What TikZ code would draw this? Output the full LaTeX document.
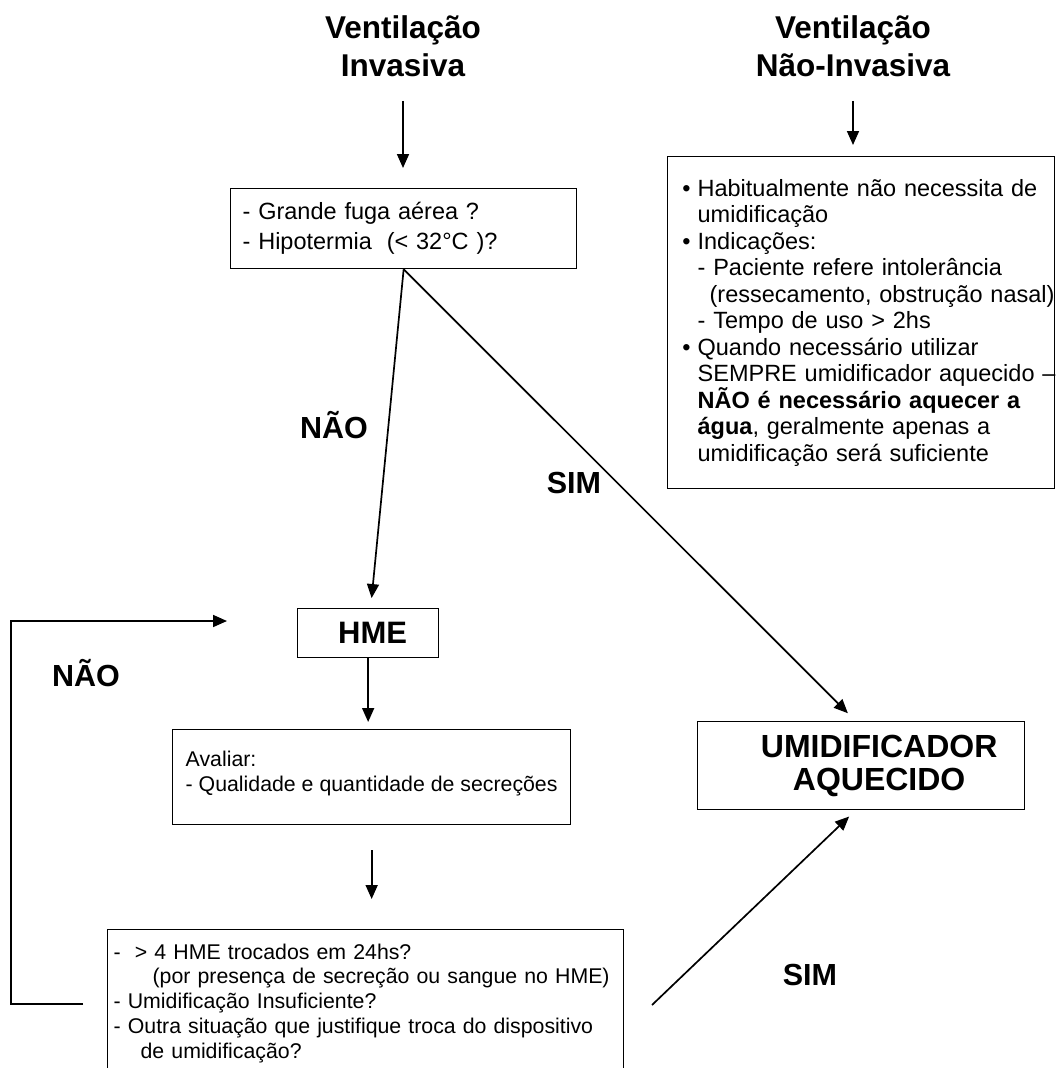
\documentclass[tikz,border=0pt]{standalone}
\usepackage{fontspec}
\setmainfont{Liberation Sans}
\usetikzlibrary{arrows.meta}

\newcommand{\marca}[1]{\mbox{\hspace*{30pt}\llap{•\hspace{7pt}}#1}}
\newcommand{\recuo}[2][30pt]{\mbox{\hspace*{#1}#2}}

\begin{document}
\begin{tikzpicture}[x=1pt, y=-1pt, >={Triangle[length=14pt,width=12pt]},
  caixa/.style={draw, line width=1.3pt, anchor=north west},
  titulo/.style={align=center, inner sep=0pt, font=\fontsize{31.5}{38}\selectfont\bfseries},
  rotulo/.style={inner sep=0pt, font=\fontsize{30.5}{36}\selectfont\bfseries},
  seta/.style={->, line width=1.7pt}]
  \useasboundingbox (0,0) rectangle (1055,1068);
  \clip (0,0) rectangle (1055,1068);

  \node[titulo] (tinv) at (403,46) {Ventilação\\Invasiva};
  \node[titulo] (tnao) at (853,46) {Ventilação\\Não-Invasiva};

  \node[caixa, minimum width=346pt, minimum height=80pt, text width=322pt, inner xsep=12pt,
        align=left, font=\fontsize{23.5}{30}\selectfont] (perg) at (230,188)
    {- Grande fuga aérea ?\\- Hipotermia\hspace{0.3em} (< 32°C )?};

  \node[caixa, minimum width=387pt, minimum height=332pt, text width=387pt, inner xsep=0pt,
        align=left, font=\fontsize{23.5}{26.5}\selectfont] (nao) at (667,156)
    {\marca{Habitualmente não necessita de}\\
     \recuo{umidificação}\\
     \marca{Indicações:}\\
     \recuo{- Paciente refere intolerância}\\
     \recuo[42pt]{(ressecamento, obstrução nasal)}\\
     \recuo{- Tempo de uso > 2hs}\\
     \marca{Quando necessário utilizar}\\
     \recuo{SEMPRE umidificador aquecido –}\\
     \recuo{\textbf{NÃO é necessário aquecer a}}\\
     \recuo{\textbf{água}, geralmente apenas a}\\
     \recuo{umidificação será suficiente}};

  \node[caixa, minimum width=141pt, minimum height=49pt, inner sep=0pt,
        font=\fontsize{31}{36}\selectfont\bfseries] (hme) at (297,608) {\hspace*{9pt}HME};

  \node[caixa, minimum width=398pt, minimum height=95pt, inner xsep=11pt, align=left,
        font=\fontsize{21.3}{25}\selectfont] (aval) at (172,729)
    {Avaliar:\\- Qualidade e quantidade de secreções\\[-13pt]\mbox{}};

  \node[caixa, minimum width=516pt, minimum height=147pt, text width=504pt, inner xsep=6pt,
        align=left, font=\fontsize{21.3}{24.75}\selectfont] (troca) at (107,929)
    {-\ \ > 4 HME trocados em 24hs?\\
     \hspace*{39pt}(por presença de secreção ou sangue no HME)\\
     - Umidificação Insuficiente?\\
     - Outra situação que justifique troca do dispositivo\\
     \hspace*{27pt}de umidificação?};

  \node[caixa, minimum width=327pt, minimum height=88pt, inner sep=0pt, align=center,
        font=\fontsize{32}{33}\selectfont\bfseries] (umid) at (697,721)
    {\hspace*{36pt}UMIDIFICADOR\\\hspace*{36pt}AQUECIDO};

  \node[rotulo] (naoA) at (334,425) {NÃO};
  \node[rotulo] (simA) at (574,483) {SIM};
  \node[rotulo] (naoB) at (86,673) {NÃO};
  \node[rotulo] (simB) at (810,975) {SIM};

  \draw[seta, shorten <=24pt, shorten >=20pt] (tinv.south) -- (tinv.south |- perg.north);
  \draw[seta, shorten <=24pt, shorten >=11pt] (tnao.south) -- (tnao.south |- nao.north);
  \draw[seta, shorten >=10pt] (perg.south) -- ([xshift=2.5pt]hme.north);
  \draw[seta, shorten >=11pt] (perg.south) -- ([xshift=-5.5pt]umid.north);
  \draw[seta, shorten >=7pt] (hme.south) -- (hme.south |- aval.north);
  \draw[seta, shorten <=25pt, shorten >=30pt] (aval.south) -- (aval.south |- troca.north);
  \coordinate (retorno) at (83,1004);
  \coordinate (entrada) at (227,621);
  \draw[seta] (retorno) -- ++(-72,0) |- (entrada);
  \coordinate (saida) at (652,1005);
  \draw[seta, shorten >=9pt] (saida) -- ([xshift=-5.5pt]umid.south);
\end{tikzpicture}
\end{document}
